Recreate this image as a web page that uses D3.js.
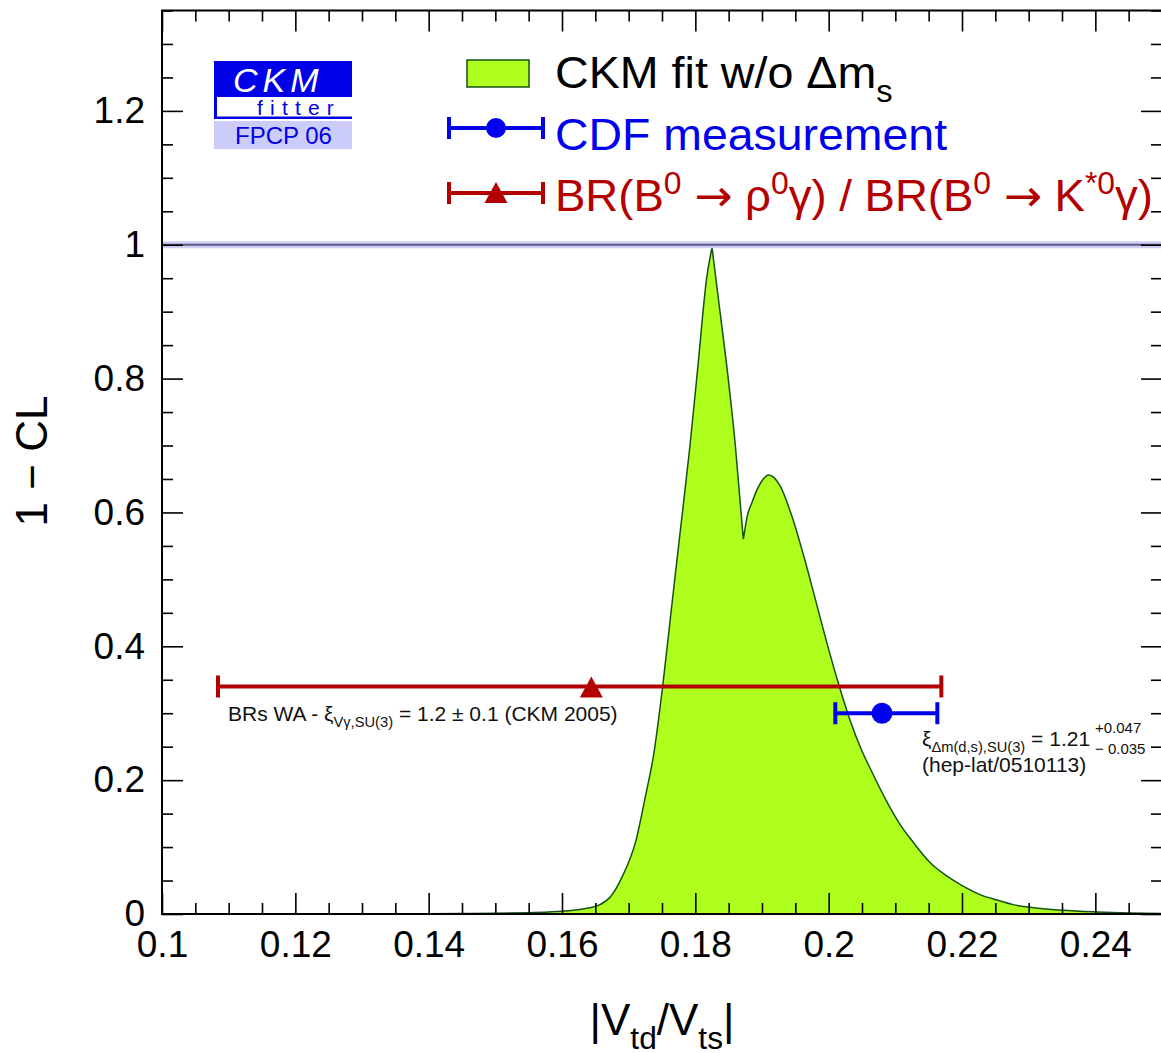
<!DOCTYPE html>
<html><head><meta charset="utf-8">
<script src="https://cdn.jsdelivr.net/npm/d3@7"></script>
<style>
body{margin:0;background:#fff}
svg{display:block}
text{font-family:"Liberation Sans",Arial,Helvetica,sans-serif}
</style>
</head><body>
<svg id="c" width="1161" height="1053"></svg>
<script>
// ---- data ----
const curveX = [0.100, 0.130, 0.140, 0.145, 0.150, 0.155, 0.158, 0.160, 0.162, 0.164, 0.1657, 0.1673, 0.1690, 0.1711, 0.1726, 0.1737, 0.1751, 0.1764, 0.1776, 0.1792, 0.1804, 0.1817, 0.1825, 0.1836, 0.1847, 0.1860, 0.1872, 0.1878, 0.1885, 0.1894, 0.1902, 0.1910, 0.1918, 0.1927, 0.1945, 0.1964, 0.1978, 0.1996, 0.2016, 0.2032, 0.2048, 0.2064, 0.2085, 0.2107, 0.2127, 0.2152, 0.2177, 0.2201, 0.2227, 0.2252, 0.2277, 0.2302, 0.2351, 0.2402, 0.2450, 0.2500];
const curveY = [0.000, 0.000, 0.0003, 0.0006, 0.001, 0.002, 0.003, 0.004, 0.006, 0.009, 0.014, 0.026, 0.055, 0.110, 0.180, 0.235, 0.340, 0.455, 0.560, 0.700, 0.820, 0.950, 0.996, 0.908, 0.820, 0.700, 0.560, 0.595, 0.615, 0.637, 0.650, 0.656, 0.652, 0.640, 0.594, 0.530, 0.478, 0.410, 0.340, 0.290, 0.248, 0.214, 0.172, 0.134, 0.107, 0.077, 0.057, 0.042, 0.029, 0.021, 0.014, 0.010, 0.0055, 0.003, 0.0015, 0.0007];
// sharp points of the curve (peak and dip)
const cuspX = [0.1825, 0.1872];

const xTicks = [0.10, 0.12, 0.14, 0.16, 0.18, 0.20, 0.22, 0.24];
const xTickLabels = ["0.1", "0.12", "0.14", "0.16", "0.18", "0.2", "0.22", "0.24"];
const yTicks = [0, 0.2, 0.4, 0.6, 0.8, 1.0, 1.2];
const yTickLabels = ["0", "0.2", "0.4", "0.6", "0.8", "1", "1.2"];

// BR(B0->rho0 gamma)/BR(B0->K*0 gamma) : [low, central, high], at 1-CL level
const brInterval = [0.1084, 0.1644, 0.2169];
const brLevel = 0.34;
// CDF measurement : [low, central, high]
const cdfInterval = [0.2010, 0.2080, 0.2163];
const cdfLevel = 0.30;
const refLine = 1.0;

// ---- setup ----
const svg = d3.select("#c");
const x = d3.scaleLinear().domain([0.10, 0.25]).range([162, 1162]);
const y = d3.scaleLinear().domain([0, 1.35]).range([914, 10.5]);
const RED = "#b30000", BLUE = "#0000ee", GREEN = "#aeff1e", DKGREEN = "#145214";

const pts = curveX.map((v, i) => [v, curveY[i]]);
// split into smooth segments at the cusps
const cutIdx = cuspX.map(c => curveX.findIndex(v => Math.abs(v - c) < 1e-9));
const bounds = [0, ...cutIdx, pts.length - 1];
const segLine = d3.line().x(d => x(d[0])).y(d => y(d[1])).curve(d3.curveMonotoneX);
let curvePath = "";
for (let i = 0; i < bounds.length - 1; i++) {
  const p = segLine(pts.slice(bounds[i], bounds[i + 1] + 1));
  curvePath += i ? p.replace(/^M/, "L") : p;
}
const areaPath = curvePath + `L${x(curveX[curveX.length - 1])},${y(0)}L${x(curveX[0])},${y(0)}Z`;

svg.append("path").attr("d", areaPath).attr("fill", GREEN);
svg.append("path").attr("d", curvePath)
  .attr("fill", "none").attr("stroke", DKGREEN).attr("stroke-width", 1.5);

// reference line at 1
svg.append("rect").attr("x", x(0.10)).attr("width", x(0.25) - x(0.10))
  .attr("y", y(refLine) - 3.5).attr("height", 7).attr("fill", "#cfcff5");
svg.append("line").attr("x1", x(0.10)).attr("x2", x(0.25))
  .attr("y1", y(refLine)).attr("y2", y(refLine))
  .attr("stroke", "#5a5a85").attr("stroke-width", 2);

// axes
function styleAxis(g) {
  g.select(".domain").remove();
  g.selectAll(".tick line").attr("stroke", "#000").attr("stroke-width", 1.6);
  g.selectAll(".tick text").attr("font-size", 37).attr("fill", "#000")
    .attr("font-family", '"Liberation Sans",Arial,sans-serif');
}
const xMinor = d3.range(0.10, 0.2501, 0.005).map(v => +v.toFixed(3)).filter(v => !xTicks.some(t => Math.abs(t - v) < 1e-6));
const yMinor = d3.range(0, 1.3501, 0.05).map(v => +v.toFixed(2)).filter(v => !yTicks.some(t => Math.abs(t - v) < 1e-6));

svg.append("g").attr("transform", `translate(0,${y(0)})`)
  .call(d3.axisBottom(x).tickValues(xTicks).tickSize(-21).tickPadding(17)
    .tickFormat((d, i) => xTickLabels[i])).call(styleAxis);
svg.append("g").attr("transform", `translate(0,${y(0)})`)
  .call(d3.axisBottom(x).tickValues(xMinor).tickSize(-11).tickFormat("")).call(styleAxis);
svg.append("g").attr("transform", `translate(0,${y(1.35)})`)
  .call(d3.axisTop(x).tickValues(xTicks).tickSize(-21).tickFormat("")).call(styleAxis);
svg.append("g").attr("transform", `translate(0,${y(1.35)})`)
  .call(d3.axisTop(x).tickValues(xMinor).tickSize(-11).tickFormat("")).call(styleAxis);
svg.append("g").attr("transform", `translate(${x(0.10)},0)`)
  .call(d3.axisLeft(y).tickValues(yTicks).tickSize(-21).tickPadding(17)
    .tickFormat((d, i) => yTickLabels[i])).call(styleAxis);
svg.append("g").attr("transform", `translate(${x(0.10)},0)`)
  .call(d3.axisLeft(y).tickValues(yMinor).tickSize(-11).tickFormat("")).call(styleAxis);
svg.append("g").attr("transform", `translate(${x(0.25)},0)`)
  .call(d3.axisRight(y).tickValues(yTicks).tickSize(-21).tickFormat("")).call(styleAxis);
svg.append("g").attr("transform", `translate(${x(0.25)},0)`)
  .call(d3.axisRight(y).tickValues(yMinor).tickSize(-11).tickFormat("")).call(styleAxis);

// frame
svg.append("rect").attr("x", x(0.10)).attr("y", y(1.35))
  .attr("width", x(0.25) - x(0.10)).attr("height", y(0) - y(1.35))
  .attr("fill", "none").attr("stroke", "#000").attr("stroke-width", 2);

// error bars
function errBar(iv, level, color) {
  const g = svg.append("g").attr("stroke", color).attr("stroke-width", 4);
  g.append("line").attr("x1", x(iv[0])).attr("x2", x(iv[2])).attr("y1", y(level)).attr("y2", y(level));
  [iv[0], iv[2]].forEach(v => g.append("line").attr("x1", x(v)).attr("x2", x(v))
    .attr("y1", y(level) - 11).attr("y2", y(level) + 11));
}
errBar(brInterval, brLevel, RED);
errBar(cdfInterval, cdfLevel, BLUE);
function triPath(cx, cy) {
  return `M${cx},${cy - 10}L${cx + 11.5},${cy + 11}L${cx - 11.5},${cy + 11}Z`;
}
svg.append("path").attr("d", triPath(x(brInterval[1]), y(brLevel))).attr("fill", RED);
svg.append("circle").attr("cx", x(cdfInterval[1])).attr("cy", y(cdfLevel)).attr("r", 10.5).attr("fill", BLUE);

// rich text helper: parts = [text, mode, optional font-family]
function rich(sel, parts, size, ratio, supShift, subShift) {
  let cur = 0;
  parts.forEach(([t, mode, fam]) => {
    const target = mode === "sup" ? -supShift : mode === "sub" ? subShift : 0;
    const ts = sel.append("tspan").attr("dy", target - cur)
      .attr("font-size", mode === "n" ? size : size * ratio).text(t);
    if (fam) ts.attr("font-family", fam);
    cur = target;
  });
  return sel;
}

// annotations
rich(svg.append("text").attr("x", 228).attr("y", 721).attr("fill", "#111"),
  [["BRs WA - ξ", "n"], ["Vγ,SU(3)", "sub"], [" = 1.2 ± 0.1 (CKM 2005)", "n"]], 21, 0.7, 0, 6);
rich(svg.append("text").attr("x", 922).attr("y", 746).attr("fill", "#111"),
  [["ξ", "n"], ["Δm(d,s),SU(3)", "sub"], [" = 1.21", "n"]], 21, 0.7, 0, 6);
svg.append("text").attr("x", 1095).attr("y", 733).attr("font-size", 15).attr("fill", "#111").text("+0.047");
svg.append("text").attr("x", 1095).attr("y", 754).attr("font-size", 15).attr("fill", "#111").text("− 0.035");
svg.append("text").attr("x", 922).attr("y", 772).attr("font-size", 21).attr("fill", "#111").text("(hep-lat/0510113)");

// legend
svg.append("rect").attr("x", 467).attr("y", 60).attr("width", 62).attr("height", 27)
  .attr("fill", GREEN).attr("stroke", DKGREEN).attr("stroke-width", 1.5);
rich(svg.append("text").attr("transform", "translate(555,88) scale(1.06,1)").attr("fill", "#000"),
  [["CKM fit w/o Δm", "n"], ["s", "sub"]], 44, 0.7, 0, 14);

const lg2 = svg.append("g").attr("stroke", BLUE).attr("stroke-width", 4);
lg2.append("line").attr("x1", 449).attr("x2", 543).attr("y1", 128).attr("y2", 128);
lg2.append("line").attr("x1", 449).attr("x2", 449).attr("y1", 117).attr("y2", 139);
lg2.append("line").attr("x1", 543).attr("x2", 543).attr("y1", 117).attr("y2", 139);
svg.append("circle").attr("cx", 496).attr("cy", 128).attr("r", 10).attr("fill", BLUE);
svg.append("text").attr("transform", "translate(555,150) scale(1.055,1)")
  .attr("font-size", 44).attr("fill", BLUE).text("CDF measurement");

const lg3 = svg.append("g").attr("stroke", RED).attr("stroke-width", 4);
lg3.append("line").attr("x1", 449).attr("x2", 543).attr("y1", 193).attr("y2", 193);
lg3.append("line").attr("x1", 449).attr("x2", 449).attr("y1", 182).attr("y2", 204);
lg3.append("line").attr("x1", 543).attr("x2", 543).attr("y1", 182).attr("y2", 204);
svg.append("path").attr("d", triPath(496, 192)).attr("fill", RED);
const ARW = '"DejaVu Sans",sans-serif';
rich(svg.append("text").attr("x", 555).attr("y", 211).attr("fill", RED).attr("textLength", 598)
    .attr("lengthAdjust", "spacingAndGlyphs"),
  [["BR(B", "n"], ["0", "sup"], [" ", "n"], ["→", "n", ARW], [" ρ", "n"], ["0", "sup"], ["γ) / BR(B", "n"], ["0", "sup"],
   [" ", "n"], ["→", "n", ARW], [" K", "n"], ["*0", "sup"], ["γ)", "n"]], 44, 0.7, 17, 0);

// logo
svg.append("rect").attr("x", 214).attr("y", 61).attr("width", 138).attr("height", 58).attr("fill", "#0000e6");
svg.append("rect").attr("x", 217).attr("y", 97).attr("width", 135).attr("height", 19.5).attr("fill", "#fff");
svg.append("rect").attr("x", 214).attr("y", 121).attr("width", 138).attr("height", 28).attr("fill", "#ccccfa");
svg.append("text").attr("x", 233).attr("y", 92).attr("font-size", 34).attr("font-style", "italic")
  .attr("letter-spacing", 5).attr("fill", "#fff").text("CKM");
svg.append("text").attr("x", 257).attr("y", 115).attr("font-size", 21)
  .attr("letter-spacing", 7.2).attr("fill", "#0000e6").text("fitter");
svg.append("text").attr("x", 235).attr("y", 144).attr("font-size", 24).attr("fill", "#0000e6").text("FPCP 06");

// axis titles
rich(svg.append("text").attr("x", 662).attr("y", 1035).attr("text-anchor", "middle").attr("fill", "#000"),
  [["|V", "n"], ["td", "sub"], ["/V", "n"], ["ts", "sub"], ["|", "n"]], 44, 0.72, 0, 14);
svg.append("text").attr("transform", "translate(47,461) rotate(-90)").attr("text-anchor", "middle")
  .attr("font-size", 44).attr("fill", "#000").text("1 − CL");
</script>
</body></html>
